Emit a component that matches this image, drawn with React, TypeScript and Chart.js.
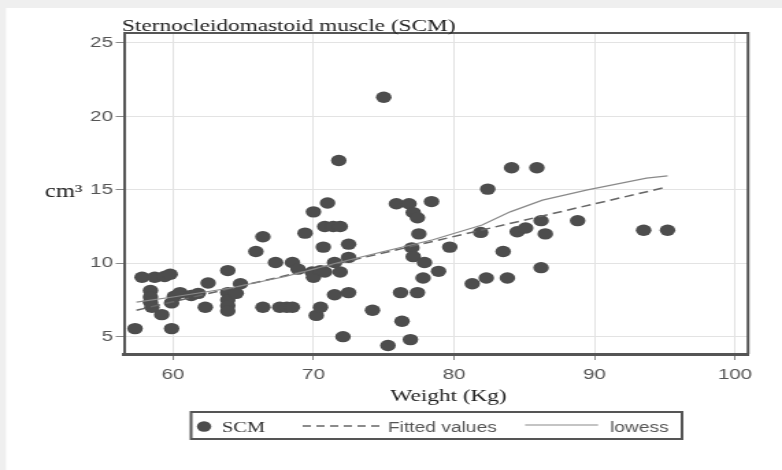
import React, { useEffect, useRef } from 'react';
import { Chart, registerables } from 'chart.js';

Chart.register(...registerables);

// ---- data ----
const weightKg = [
  57.3, 57.8, 58.7, 59.4, 59.8, 58.4, 58.4, 58.4, 58.5, 59.2,
  59.9, 59.9, 60.1, 60.5, 61.3, 61.8, 62.5, 62.3, 63.9, 63.9,
  63.9, 63.9, 63.9, 64.5, 64.8, 65.9, 66.4, 66.4, 67.3, 67.6,
  68.1, 68.5, 68.5, 68.9, 69.4, 69.9, 70.0, 70.5, 70.8, 70.2,
  70.5, 70.7, 71.5, 71.5, 71.9, 72.1, 72.5, 72.5, 72.5, 74.2,
  75.3, 76.3, 76.9, 76.2, 77.4, 75.0, 71.8, 71.0, 70.0, 70.8,
  71.4, 71.9, 75.9, 76.8, 77.1, 77.4, 78.4, 77.5, 82.4, 84.1,
  85.9, 81.9, 84.5, 85.1, 86.2, 86.5, 88.8, 93.5, 95.2, 77.0,
  77.1, 77.9, 79.7, 78.9, 77.8, 83.5, 81.3, 82.3, 83.8, 86.2,
];
const scmCm3 = [
  5.55, 9.05, 9.05, 9.1, 9.25, 8.15, 7.7, 7.35, 7.0, 6.5,
  5.55, 7.3, 7.75, 8.0, 7.8, 7.95, 8.65, 7.0, 9.5, 8.0,
  7.5, 7.1, 6.75, 7.95, 8.6, 10.8, 11.8, 7.0, 10.05, 7.0,
  7.0, 7.0, 10.05, 9.6, 12.05, 9.4, 9.05, 9.5, 9.4, 6.45,
  7.0, 11.1, 10.05, 7.85, 9.4, 5.0, 11.3, 10.4, 8.0, 6.8,
  4.4, 6.05, 4.8, 8.0, 8.0, 21.3, 17.0, 14.1, 13.5, 12.5,
  12.5, 12.5, 14.05, 14.05, 13.45, 13.1, 14.2, 12.0, 15.05, 16.5,
  16.5, 12.1, 12.15, 12.4, 12.9, 12.0, 12.9, 12.25, 12.25, 11.05,
  10.45, 10.05, 11.1, 9.45, 9.0, 10.8, 8.6, 9.0, 9.0, 9.7,
];
const fittedX = [57.4, 95.2];
const fittedY = [6.8, 15.2];
const lowessX = [57.4, 60, 64, 68, 72, 75, 78.5, 82, 84, 86.3, 89.5, 93.7, 95.2];
const lowessY = [7.35, 7.7, 8.3, 9.1, 10.1, 10.8, 11.6, 12.6, 13.5, 14.3, 15.0, 15.8, 15.95];
const xTicks = [60, 70, 80, 90, 100];
const yTicks = [5, 10, 15, 20, 25];
const seriesLabels = ['SCM', 'Fitted values', 'lowess'];
const chartTitle = 'Sternocleidomastoid muscle (SCM)';
const xTitle = 'Weight (Kg)';
const yTitle = 'cm³';

// canvas is drawn at a narrower internal width and stretched to 782px (reference is horizontally stretched)
const INNER_W = 571;
const INNER_H = 470;

const SERIF = '"Liberation Serif", "Times New Roman", serif';
const SANS = '"Liberation Sans", Arial, sans-serif';
const POINT_COLOR = '#4d4d4d';

const decorPlugin = {
  id: 'decor',
  beforeDraw(chart: any) {
    const ctx = chart.ctx;
    ctx.save();
    ctx.fillStyle = '#efefef';
    ctx.fillRect(0, 0, chart.width, chart.height);
    ctx.fillStyle = '#ffffff';
    ctx.fillRect(4.4, 8, chart.width, chart.height);
    ctx.restore();
  },
  afterDraw(chart: any) {
    const ctx = chart.ctx;
    const a = chart.chartArea;
    ctx.save();
    // top & right frame
    ctx.strokeStyle = '#555';
    ctx.lineWidth = 2;
    ctx.beginPath();
    ctx.moveTo(a.left, a.top);
    ctx.lineTo(a.right, a.top);
    ctx.lineTo(a.right, a.bottom);
    ctx.stroke();

    // title
    ctx.fillStyle = '#222';
    ctx.font = `17px ${SERIF}`;
    ctx.textAlign = 'left';
    ctx.textBaseline = 'alphabetic';
    ctx.fillText(chartTitle, 89, 31);

    // y title
    ctx.font = `18px ${SERIF}`;
    ctx.textAlign = 'center';
    ctx.fillText(yTitle, 46.4, 197);

    // x title
    ctx.font = `17px ${SERIF}`;
    ctx.fillText(xTitle, 327.5, 401);

    // legend box
    ctx.strokeStyle = '#555';
    ctx.lineWidth = 2;
    ctx.strokeRect(139.5, 412, 498 - 139.5, 27);

    // marker
    ctx.fillStyle = POINT_COLOR;
    ctx.beginPath();
    ctx.arc(149, 426.5, 5.2, 0, Math.PI * 2);
    ctx.fill();

    ctx.textAlign = 'left';
    ctx.fillStyle = '#333';
    ctx.font = `15px ${SERIF}`;
    ctx.fillText(seriesLabels[0], 162, 432);

    // dashed
    ctx.strokeStyle = '#666';
    ctx.lineWidth = 1.3;
    ctx.setLineDash([6, 4]);
    ctx.beginPath();
    ctx.moveTo(221, 426);
    ctx.lineTo(277.5, 426);
    ctx.stroke();
    ctx.setLineDash([]);

    ctx.fillStyle = '#555';
    ctx.font = `14px ${SANS}`;
    ctx.fillText(seriesLabels[1], 283.3, 432);

    ctx.strokeStyle = '#8a8a8a';
    ctx.lineWidth = 1.2;
    ctx.beginPath();
    ctx.moveTo(383.4, 425);
    ctx.lineTo(436.7, 425);
    ctx.stroke();

    ctx.fillText(seriesLabels[2], 445.4, 432);
    ctx.restore();
  },
};

export default function App() {
  const ref = useRef<HTMLCanvasElement | null>(null);

  useEffect(() => {
    if (!ref.current) return;
    const points = weightKg.map((x, i) => ({ x, y: scmCm3[i] }));
    const fitted = fittedX.map((x, i) => ({ x, y: fittedY[i] }));
    const lowess = lowessX.map((x, i) => ({ x, y: lowessY[i] }));

    const chart = new Chart(ref.current, {
      type: 'scatter',
      data: {
        datasets: [
          {
            label: seriesLabels[0],
            data: points,
            pointRadius: 5.7,
            pointHoverRadius: 5.7,
            pointBackgroundColor: POINT_COLOR,
            pointBorderWidth: 0,
            borderColor: POINT_COLOR,
            showLine: false,
            order: 3,
          } as any,
          {
            label: seriesLabels[1],
            data: fitted,
            showLine: true,
            pointRadius: 0,
            borderColor: '#666',
            borderWidth: 1.5,
            borderDash: [7, 4],
            fill: false,
            order: 2,
          } as any,
          {
            label: seriesLabels[2],
            data: lowess,
            showLine: true,
            pointRadius: 0,
            borderColor: '#8a8a8a',
            borderWidth: 1.2,
            tension: 0,
            fill: false,
            order: 1,
          } as any,
        ],
      },
      options: {
        responsive: false,
        animation: false,
        devicePixelRatio: 1,
        layout: { padding: { top: 33, right: 24.8, bottom: 0, left: 0 } },
        plugins: {
          legend: { display: false },
          tooltip: { enabled: false },
          title: { display: false },
        },
        events: [],
        scales: {
          x: {
            type: 'linear',
            min: 56.51,
            max: 100.93,
            afterBuildTicks: (s: any) => {
              s.ticks = xTicks.map((v) => ({ value: v }));
            },
            afterFit: (s: any) => {
              s.height = 116;
            },
            grid: { color: '#e3e3e3', lineWidth: 1, tickLength: 6, tickColor: '#8a8a8a', drawTicks: true },
            border: { color: '#555', width: 3 },
            ticks: {
              font: { family: SANS, size: 15 },
              color: '#555',
              padding: 6,
              maxRotation: 0,
              autoSkip: false,
            },
          },
          y: {
            type: 'linear',
            min: 3.82,
            max: 25.68,
            afterBuildTicks: (s: any) => {
              s.ticks = yTicks.map((v) => ({ value: v }));
            },
            afterFit: (s: any) => {
              s.width = 90.5;
            },
            grid: { color: '#e3e3e3', lineWidth: 1, tickLength: 6, tickColor: '#8a8a8a', drawTicks: true },
            border: { color: '#555', width: 2 },
            ticks: {
              font: { family: SANS, size: 15 },
              color: '#555',
              padding: 2,
              autoSkip: false,
            },
          },
        },
      } as any,
      plugins: [decorPlugin],
    });
    return () => chart.destroy();
  }, []);

  return (
    <canvas
      ref={ref}
      width={INNER_W}
      height={INNER_H}
      style={{ position: 'fixed', left: 0, top: 0, width: '782px', height: '470px', display: 'block' }}
    />
  );
}
